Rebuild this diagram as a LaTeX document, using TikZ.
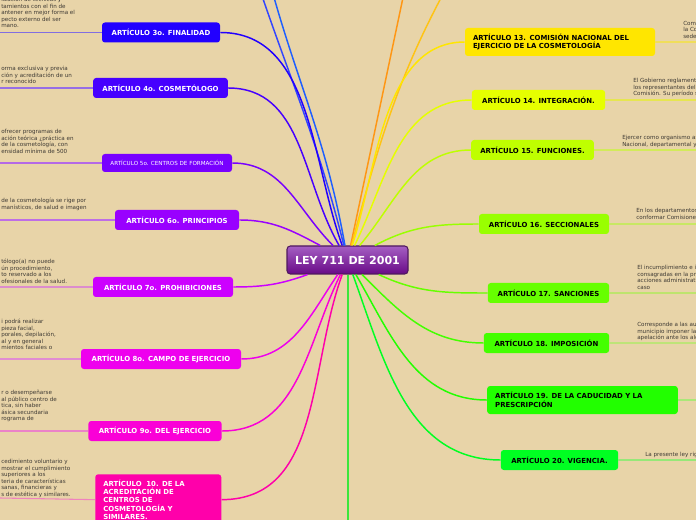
\documentclass[tikz,border=0pt]{standalone}
\usepackage{fontspec}
\setmainfont{DejaVu Sans}
\usetikzlibrary{positioning}

\definecolor{paper}{RGB}{232,212,168}
\definecolor{notegray}{RGB}{62,58,52}
\definecolor{leytop}{RGB}{165,95,195}
\definecolor{leybot}{RGB}{105,10,135}
\definecolor{leyrim}{RGB}{80,25,95}
% branch colours, left
\definecolor{c1}{RGB}{50,70,255}
\definecolor{c2}{RGB}{30,95,255}
\definecolor{c3}{RGB}{34,0,255}
\definecolor{c4}{RGB}{70,0,255}
\definecolor{c5}{RGB}{120,0,255}
\definecolor{c6}{RGB}{153,0,255}
\definecolor{c7}{RGB}{204,0,255}
\definecolor{c8}{RGB}{238,0,238}
\definecolor{c9}{RGB}{250,0,215}
\definecolor{c10}{RGB}{255,0,170}
% branch colours, right
\definecolor{c11}{RGB}{255,150,20}
\definecolor{c12}{RGB}{255,195,20}
\definecolor{c13}{RGB}{255,230,0}
\definecolor{c14}{RGB}{230,255,0}
\definecolor{c15}{RGB}{191,255,0}
\definecolor{c16}{RGB}{153,255,0}
\definecolor{c17}{RGB}{102,255,0}
\definecolor{c18}{RGB}{68,255,0}
\definecolor{c19}{RGB}{34,255,0}
\definecolor{c20}{RGB}{0,255,34}
\definecolor{c21}{RGB}{60,230,60}
% twig colours
\definecolor{t3}{RGB}{130,110,225}
\definecolor{t4}{RGB}{150,110,230}
\definecolor{t5}{RGB}{180,105,230}
\definecolor{t6}{RGB}{190,110,230}
\definecolor{t7}{RGB}{220,140,205}
\definecolor{t8}{RGB}{225,140,210}
\definecolor{t9}{RGB}{235,130,200}
\definecolor{t10}{RGB}{240,130,190}
\definecolor{t13}{RGB}{240,222,90}
\definecolor{t14}{RGB}{230,230,80}
\definecolor{t15}{RGB}{210,235,90}
\definecolor{t16}{RGB}{200,232,100}
\definecolor{t17}{RGB}{190,228,110}
\definecolor{t18}{RGB}{190,228,120}
\definecolor{t19}{RGB}{170,232,120}
\definecolor{t20}{RGB}{150,232,120}

\begin{document}
\begin{tikzpicture}[
		x=0.75pt, y=0.75pt,
		box/.style = {rounded corners=2.2pt, inner xsep=3pt, inner ysep=1pt, minimum height=15pt, font=\fontsize{5.2}{6.3}\selectfont\bfseries},
		lbox/.style = {box, fill=#1, text=white},
		rbox/.style = {box, fill=#1, text=black},
		note/.style = {align=left, inner sep=0pt, anchor=north west, text=notegray, font=\fontsize{4.2}{4.9}\selectfont},
		branch/.style = {line width=1.1pt, draw=#1},
		twig/.style = {line width=0.8pt, draw=#1}
		]

	\fill[paper] (0,0) rectangle (696,-520);
	\useasboundingbox (0,0) rectangle (696,-520);
	\clip (0,0) rectangle (696,-520);

	% central topic
	\node[rounded corners=2.5pt, draw=leyrim, line width=0.8pt, top color=leytop, bottom color=leybot,
		minimum width=90.75pt, minimum height=21pt, text=white, font=\fontsize{8.3}{10}\selectfont\bfseries] (ley) at (347.5,-260) {LEY 711 DE 2001};

	% left articles
	\node[lbox=c3, minimum width=88.5pt] (art3) at (161,-32.5) {ARTÍCULO 3o. FINALIDAD};
	\node[lbox=c4, minimum width=101pt] (art4) at (160.5,-88) {ARTÍCULO 4o. COSMETÓLOGO};
	\node[lbox=c5, minimum width=97.5pt, minimum height=13.5pt, font=\fontsize{4.2}{5}\selectfont] (art5) at (167,-163) {ARTÍCULO 5o. CENTROS DE FORMACIÓN};
	\node[lbox=c6, minimum width=93pt] (art6) at (177,-220) {ARTÍCULO 6o. PRINCIPIOS};
	\node[lbox=c7, minimum width=105pt] (art7) at (163,-287) {ARTÍCULO 7o. PROHIBICIONES};
	\node[lbox=c8, minimum width=120pt] (art8) at (161,-359) {ARTÍCULO 8o. CAMPO DE EJERCICIO};
	\node[lbox=c9, minimum width=100pt] (art9) at (155,-431) {ARTÍCULO 9o. DEL EJERCICIO};
	\node[lbox=c10, anchor=north west, align=left, text width=82.5pt, minimum height=36pt,
		inner xsep=6pt, inner ysep=4pt] (art10) at (95,-474)
		{ARTÍCULO \ 10. DE LA\\ACREDITACIÓN DE\\CENTROS DE\\COSMETOLOGÍA Y\\SIMILARES.};

	% right articles
	\node[rbox=c13, align=left, text width=130.5pt, inner xsep=6pt, minimum height=21pt] (art13) at (560,-42)
		{ARTÍCULO 13. COMISIÓN NACIONAL DEL\\EJERCICIO DE LA COSMETOLOGÍA};
	\node[rbox=c14, minimum width=100pt] (art14) at (538.5,-100) {ARTÍCULO 14. INTEGRACIÓN.};
	\node[rbox=c15, minimum width=92pt] (art15) at (532.5,-150) {ARTÍCULO 15. FUNCIONES.};
	\node[rbox=c16, minimum width=97.5pt] (art16) at (544,-224) {ARTÍCULO 16. SECCIONALES};
	\node[rbox=c17, minimum width=91pt] (art17) at (548.5,-293) {ARTÍCULO 17. SANCIONES};
	\node[rbox=c18, minimum width=94pt] (art18) at (546.5,-343) {ARTÍCULO 18. IMPOSICIÓN};
	\node[rbox=c19, align=left, text width=131pt, inner xsep=6pt, minimum height=21pt] (art19) at (582.5,-400)
		{ARTÍCULO 19. DE LA CADUCIDAD Y LA\\PRESCRIPCIÓN};
	\node[rbox=c20, minimum width=88pt] (art20) at (559.5,-460) {ARTÍCULO 20. VIGENCIA.};

	% branches leaving the picture
	\coordinate (art1) at (250,40);
	\coordinate (art2) at (264,40);
	\coordinate (art11) at (411,40);
	\coordinate (art12) at (462,40);
	\coordinate (art21) at (348,-540);

	\draw[branch=c1] (ley) to[out=104,in=-72] (art1);
	\draw[branch=c2] (ley) to[out=100,in=-76] (art2);
	\draw[branch=c11] (ley) to[out=78,in=-102] (art11);
	\draw[branch=c12] (ley) to[out=75,in=-120] (art12);
	\draw[branch=c21] (ley.south) ++(0.5,0) -- (art21);

	% branches to the articles
	\draw[branch=c3] (ley) to[out=110,in=0,looseness=0.95] (art3);
	\draw[branch=c4] (ley) to[out=120,in=0] (art4);
	\draw[branch=c5] (ley) to[out=135,in=0] (art5);
	\draw[branch=c6] (ley) to[out=152,in=0] (art6);
	\draw[branch=c7] (ley) to[out=200,in=0] (art7);
	\draw[branch=c8] (ley) to[out=236,in=0] (art8);
	\draw[branch=c9] (ley) to[out=244,in=0] (art9);
	\draw[branch=c10] (ley) to[out=250,in=0] (art10.east);
	\draw[branch=c13] (ley) to[out=72,in=180,looseness=0.9] (art13);
	\draw[branch=c14] (ley) to[out=64,in=180] (art14);
	\draw[branch=c15] (ley) to[out=50,in=180] (art15);
	\draw[branch=c16] (ley) to[out=28,in=180] (art16);
	\draw[branch=c17] (ley) to[out=-25,in=180] (art17);
	\draw[branch=c18] (ley) to[out=-45,in=180] (art18);
	\draw[branch=c19] (ley) to[out=-60,in=180] (art19);
	\draw[branch=c20] (ley) to[out=-70,in=180] (art20);

	% notes, left
	\coordinate (d3) at (0,-32.5);
	\coordinate (d4) at (0,-88);
	\coordinate (d5) at (0,-163);
	\coordinate (d6) at (0,-220);
	\coordinate (d7) at (0,-287);
	\coordinate (d8) at (0,-359);
	\coordinate (d9) at (0,-431);
	\coordinate (d10) at (0,-498);
	\draw[twig=t3] (art3) -- (d3);
	\draw[twig=t4] (art4) -- (d4);
	\draw[twig=t5] (art5) -- (d5);
	\draw[twig=t6] (art6) -- (d6);
	\draw[twig=t7] (art7) -- (d7);
	\draw[twig=t8] (art8) -- (d8);
	\draw[twig=t9] (art9) -- (d9);
	\draw[twig=t10] (art10.east -| art10.west) -- (d10);

	\node[note] (n3) at (1,3) {lización de técnicas y\\tamientos con el fin de\\antener en mejor forma el\\pecto externo del ser\\mano.};
	\node[note] (n4) at (1,-66) {orma exclusiva y previa\\ción y acreditación de un\\r reconocido};
	\node[note] (n5) at (1,-129) {ofrecer programas de\\ación teórica ¿práctica en\\de la cosmetología, con\\ensidad mínima de 500};
	\node[note] (n6) at (1,-198) {de la cosmetología se rige por\\manísticos, de salud e imagen};
	\node[note] (n7) at (1,-259) {tólogo(a) no puede\\ún procedimiento,\\to reservado a los\\ofesionales de la salud.};
	\node[note] (n8) at (1,-319) {i podrá realizar\\pieza facial,\\porales, depilación,\\al y en general\\mientos faciales o};
	\node[note] (n9) at (1,-390) {r o desempeñarse\\al público centro de\\tica, sin haber\\ásica secundaria\\rograma de};
	\node[note] (n10) at (1,-459) {cedimiento voluntario y\\mostrar el cumplimiento\\ superiores a los\\teria de características\\sanas, financieras y\\s de estética y similares.};

	% notes, right
	\coordinate (d13) at (696,-42);
	\coordinate (d14) at (696,-100);
	\coordinate (d15) at (696,-150);
	\coordinate (d16) at (696,-224);
	\coordinate (d17) at (696,-293);
	\coordinate (d18) at (696,-343);
	\coordinate (d19) at (696,-400);
	\coordinate (d20) at (696,-460);
	\draw[twig=t13] (art13) -- (d13);
	\draw[twig=t14] (art14) -- (d14);
	\draw[twig=t15] (art15) -- (d15);
	\draw[twig=t16] (art16) -- (d16);
	\draw[twig=t17] (art17) -- (d17);
	\draw[twig=t18] (art18) -- (d18);
	\draw[twig=t19] (art19) -- (d19);
	\draw[twig=t20] (art20) -- (d20);

	\node[note] (n13) at (683,-21) {Como\\la Co\\sede};
	\node[note] (n14) at (633,-78) {El Gobierno reglamenta\\los representantes del\\Comisión. Su período s};
	\node[note] (n15) at (622,-135) {Ejercer como organismo as\\Nacional, departamental y};
	\node[note] (n16) at (636,-208) {En los departamentos\\conformar Comisiones};
	\node[note] (n17) at (637,-265) {El incumplimiento e in\\consagradas en la pre\\acciones administrativ\\caso};
	\node[note] (n18) at (637,-322) {Corresponde a las aut\\municipio imponer las\\apelación ante los alc};
	\node[note] (n20) at (645,-452) {La presente ley rig};
\end{tikzpicture}
\end{document}
